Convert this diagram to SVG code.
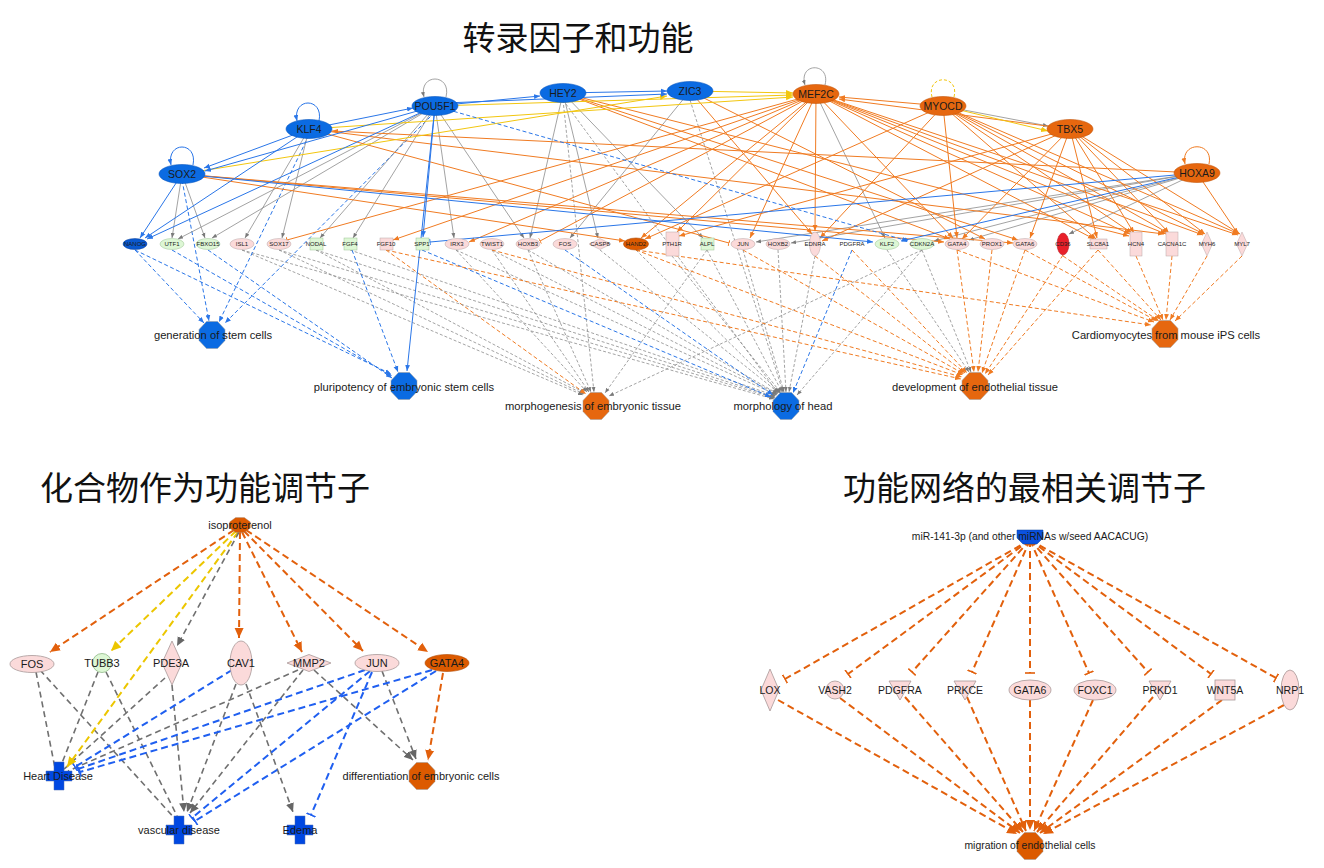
<svg xmlns="http://www.w3.org/2000/svg" width="1324" height="868" viewBox="0 0 1324 868">
<style>
.t{font-family:"Liberation Sans",Arial,sans-serif;fill:#1a1a1a;text-anchor:middle}
.tf{font-size:10.5px}
.g{font-size:6px}
.fn{font-size:11.2px}
.bl{font-size:11px}
.br{font-size:10.5px}
.zh{font-family:"Noto Sans CJK SC","Noto Sans CJK TC",sans-serif;font-size:33px;fill:#111}
.nb{fill:#0b6be2;stroke:#0a58c0;stroke-width:.6}
.nb2{fill:#0a58cf;stroke:#083f9a;stroke-width:.5}
.no{fill:#e6670f;stroke:#c4560a;stroke-width:.6}
.no2{fill:#dc5a00;stroke:#b04800;stroke-width:.6}
.pk{fill:#fbdada;stroke:#b8a6a6;stroke-width:.5}
.pk2{fill:#fbdada;stroke:#a89898;stroke-width:.8}
.gr{fill:#ddf7d5;stroke:#9cc294;stroke-width:.5}
.gr2{fill:#ddf7d5;stroke:#8fb888;stroke-width:.8}
.e line,.e path{fill:none}
.bs{stroke:#2a76e8;stroke-width:1;marker-end:url(#ab)}
.bt{stroke:#2a76e8;stroke-width:1;marker-end:url(#tbl)}
.bd{stroke:#2a76e8;stroke-width:1;stroke-dasharray:4 2.5;marker-end:url(#ab)}
.os{stroke:#f07b22;stroke-width:1;marker-end:url(#ao)}
.ot{stroke:#f07b22;stroke-width:1;marker-end:url(#tol)}
.od{stroke:#f07b22;stroke-width:1;stroke-dasharray:4 2.5;marker-end:url(#ao)}
.gs{stroke:#8c8c8c;stroke-width:.8;marker-end:url(#ag)}
.gd{stroke:#8c8c8c;stroke-width:.8;stroke-dasharray:3 2;marker-end:url(#ag)}
.ys{stroke:#f2c60f;stroke-width:1;marker-end:url(#ay)}
.yd{stroke:#f2c60f;stroke-width:1;stroke-dasharray:3 2}
.Lo{stroke:#e2600c;stroke-width:2;stroke-dasharray:7 4;marker-end:url(#Ao)}
.Lot{stroke:#e2600c;stroke-width:2;stroke-dasharray:7 4;marker-end:url(#To)}
.Ly{stroke:#ecc600;stroke-width:2;stroke-dasharray:7 4;marker-end:url(#Ay)}
.Lg{stroke:#707070;stroke-width:1.6;stroke-dasharray:6 4;marker-end:url(#Ag)}
.Lgn{stroke:#707070;stroke-width:1.6;stroke-dasharray:6 4}
.Lb{stroke:#1f5ff0;stroke-width:2;stroke-dasharray:7 4;marker-end:url(#Tb)}
</style>
<defs>
<marker id="ab" viewBox="0 0 10 10" refX="10" refY="5" markerWidth="6" markerHeight="6" markerUnits="userSpaceOnUse" orient="auto"><path d="M0,1 L10,5 L0,9 z" fill="#2a76e8"/></marker>
<marker id="ao" viewBox="0 0 10 10" refX="10" refY="5" markerWidth="6" markerHeight="6" markerUnits="userSpaceOnUse" orient="auto"><path d="M0,1 L10,5 L0,9 z" fill="#f07b22"/></marker>
<marker id="ag" viewBox="0 0 10 10" refX="10" refY="5" markerWidth="5" markerHeight="5" markerUnits="userSpaceOnUse" orient="auto"><path d="M0,1 L10,5 L0,9 z" fill="#7a7a7a"/></marker>
<marker id="ay" viewBox="0 0 10 10" refX="10" refY="5" markerWidth="7" markerHeight="7" markerUnits="userSpaceOnUse" orient="auto"><path d="M0,1 L10,5 L0,9 z" fill="#f2c60f"/></marker>
<marker id="tbl" viewBox="0 0 4 10" refX="3" refY="5" markerWidth="2.4" markerHeight="6" markerUnits="userSpaceOnUse" orient="auto"><path d="M3,0 V10" stroke="#2a76e8" stroke-width="1.6"/></marker>
<marker id="tol" viewBox="0 0 4 10" refX="3" refY="5" markerWidth="2.4" markerHeight="6" markerUnits="userSpaceOnUse" orient="auto"><path d="M3,0 V10" stroke="#f07b22" stroke-width="1.6"/></marker>
<marker id="Ao" viewBox="0 0 10 10" refX="10" refY="5" markerWidth="10" markerHeight="10" markerUnits="userSpaceOnUse" orient="auto"><path d="M0,0.5 L10,5 L0,9.5 z" fill="#e2600c"/></marker>
<marker id="Ay" viewBox="0 0 10 10" refX="10" refY="5" markerWidth="10" markerHeight="10" markerUnits="userSpaceOnUse" orient="auto"><path d="M0,0.5 L10,5 L0,9.5 z" fill="#ecc600"/></marker>
<marker id="Ag" viewBox="0 0 10 10" refX="10" refY="5" markerWidth="9" markerHeight="9" markerUnits="userSpaceOnUse" orient="auto"><path d="M0,0.5 L10,5 L0,9.5 z" fill="#666"/></marker>
<marker id="Tb" viewBox="0 0 4 10" refX="3" refY="5" markerWidth="4" markerHeight="10" markerUnits="userSpaceOnUse" orient="auto"><path d="M3,0 V10" stroke="#1f5ff0" stroke-width="1.6"/></marker>
<marker id="To" viewBox="0 0 4 10" refX="3" refY="5" markerWidth="4" markerHeight="10" markerUnits="userSpaceOnUse" orient="auto"><path d="M3,0 V10" stroke="#e2600c" stroke-width="1.6"/></marker>
<polygon id="oct" points="5.5,-13.5 13,-5.5 13,5.5 5.5,13.5 -5.5,13.5 -13,5.5 -13,-5.5 -5.5,-13.5" stroke="#999" stroke-width=".5"/>
<path id="cross" d="M-5,-14 H5 V-5 H13 V5 H5 V14 H-5 V5 H-13 V-5 H-5 Z" stroke="#4a6ab0" stroke-width=".5"/>
</defs>
<rect width="1324" height="868" fill="#fff"/>

<text class="zh" x="578" y="50" text-anchor="middle">转录因子和功能</text>
<text class="zh" x="40" y="500">化合物作为功能调节子</text>
<text class="zh" x="843" y="500">功能网络的最相关调节子</text>

<g id="top-connectors" class="e">
<line class="gd" x1="242" y1="250" x2="583" y2="395"/>
<line class="gd" x1="279" y1="250" x2="584" y2="394"/>
<line class="gd" x1="316" y1="250" x2="585" y2="393"/>
<line class="gd" x1="456" y1="250" x2="587" y2="392"/>
<line class="gd" x1="492" y1="250" x2="589" y2="392"/>
<line class="gd" x1="528" y1="250" x2="591" y2="392"/>
<line class="gd" x1="563" y1="100" x2="594" y2="392"/>
<line class="gd" x1="707" y1="250" x2="605" y2="393"/>
<line class="gd" x1="922" y1="250" x2="609" y2="396"/>
<line class="od" x1="386" y1="250" x2="586" y2="394"/>
<line class="gd" x1="242" y1="250" x2="774" y2="399"/>
<line class="gd" x1="279" y1="250" x2="775" y2="398"/>
<line class="gd" x1="316" y1="250" x2="775" y2="397"/>
<line class="gd" x1="350" y1="250" x2="776" y2="396"/>
<line class="gd" x1="456" y1="250" x2="777" y2="395"/>
<line class="gd" x1="492" y1="250" x2="777" y2="394"/>
<line class="gd" x1="528" y1="250" x2="778" y2="394"/>
<line class="gd" x1="600" y1="250" x2="779" y2="393"/>
<line class="gd" x1="636" y1="250" x2="780" y2="393"/>
<line class="gd" x1="672" y1="256" x2="781" y2="393"/>
<line class="gd" x1="707" y1="250" x2="782" y2="392"/>
<line class="gd" x1="743" y1="250" x2="784" y2="392"/>
<line class="gd" x1="778" y1="250" x2="786" y2="392"/>
<line class="gd" x1="815" y1="256" x2="789" y2="392"/>
<line class="gd" x1="690" y1="100" x2="783" y2="392"/>
<line class="gd" x1="563" y1="100" x2="778" y2="393"/>
<line class="gd" x1="922" y1="250" x2="797" y2="395"/>
<line class="bd" x1="422" y1="250" x2="771" y2="397"/>
<line class="bd" x1="565" y1="250" x2="773" y2="395"/>
<line class="bd" x1="852" y1="250" x2="793" y2="393"/>
<line class="bd" x1="135" y1="250" x2="204" y2="323"/>
<line class="bd" x1="182" y1="180" x2="209" y2="321"/>
<line class="bd" x1="309" y1="135" x2="219" y2="322"/>
<line class="bd" x1="435" y1="112" x2="225" y2="323"/>
<line class="bd" x1="135" y1="250" x2="391" y2="374"/>
<line class="bd" x1="172" y1="250" x2="392" y2="376"/>
<line class="bd" x1="208" y1="250" x2="392" y2="378"/>
<line class="bd" x1="352" y1="250" x2="398" y2="372"/>
<line class="od" x1="386" y1="250" x2="961" y2="379"/>
<line class="od" x1="492" y1="250" x2="962" y2="377"/>
<line class="od" x1="636" y1="250" x2="963" y2="375"/>
<line class="od" x1="743" y1="250" x2="964" y2="374"/>
<line class="od" x1="815" y1="256" x2="965" y2="373"/>
<line class="od" x1="852" y1="250" x2="967" y2="373"/>
<line class="gd" x1="887" y1="250" x2="969" y2="372"/>
<line class="gd" x1="922" y1="250" x2="971" y2="372"/>
<line class="od" x1="957" y1="250" x2="974" y2="372"/>
<line class="od" x1="992" y1="250" x2="978" y2="372"/>
<line class="od" x1="1025" y1="250" x2="982" y2="373"/>
<line class="od" x1="1063" y1="255" x2="985" y2="374"/>
<line class="od" x1="1098" y1="250" x2="988" y2="375"/>
<line class="od" x1="636" y1="250" x2="1151" y2="325"/>
<line class="od" x1="957" y1="250" x2="1154" y2="322"/>
<line class="od" x1="1025" y1="250" x2="1157" y2="321"/>
<line class="od" x1="1063" y1="256" x2="1159" y2="321"/>
<line class="od" x1="1098" y1="250" x2="1161" y2="320"/>
<line class="od" x1="1136" y1="256" x2="1163" y2="320"/>
<line class="od" x1="1172" y1="256" x2="1166" y2="320"/>
<line class="od" x1="1207" y1="256" x2="1170" y2="320"/>
<line class="od" x1="1242" y1="256" x2="1175" y2="321"/>
<line class="gs" x1="182" y1="174" x2="172" y2="238"/>
<line class="gs" x1="182" y1="174" x2="205" y2="238"/>
<line class="gs" x1="435" y1="106" x2="178" y2="239"/>
<line class="gs" x1="435" y1="106" x2="212" y2="238"/>
<line class="gs" x1="435" y1="106" x2="320" y2="238"/>
<line class="gs" x1="435" y1="106" x2="353" y2="238"/>
<line class="gs" x1="435" y1="106" x2="524" y2="238"/>
<line class="gs" x1="435" y1="106" x2="454" y2="238"/>
<line class="gs" x1="563" y1="93" x2="530" y2="238"/>
<line class="gs" x1="563" y1="93" x2="598" y2="238"/>
<line class="gs" x1="563" y1="93" x2="703" y2="238"/>
<line class="gs" x1="309" y1="129" x2="245" y2="238"/>
<line class="gs" x1="309" y1="129" x2="282" y2="238"/>
<line class="gs" x1="690" y1="91" x2="570" y2="238"/>
<line class="gs" x1="816" y1="94" x2="885" y2="238"/>
<line class="gs" x1="1197" y1="173" x2="934" y2="241"/>
<line class="gs" x1="1197" y1="173" x2="791" y2="243"/>
<line class="gs" x1="1197" y1="173" x2="756" y2="242"/>
<line class="gs" x1="1197" y1="173" x2="1069" y2="234"/>
<line class="gs" x1="1197" y1="173" x2="969" y2="240"/>
<line class="gs" x1="943" y1="106" x2="1048" y2="126"/>
<line class="os" x1="816" y1="94" x2="641" y2="238"/>
<line class="os" x1="816" y1="94" x2="677" y2="232"/>
<line class="os" x1="816" y1="94" x2="750" y2="238"/>
<line class="os" x1="816" y1="94" x2="815" y2="231"/>
<line class="os" x1="816" y1="94" x2="953" y2="238"/>
<line class="os" x1="816" y1="94" x2="1094" y2="239"/>
<line class="os" x1="816" y1="94" x2="1130" y2="234"/>
<line class="os" x1="816" y1="94" x2="1166" y2="234"/>
<line class="os" x1="816" y1="94" x2="1203" y2="235"/>
<line class="os" x1="816" y1="94" x2="1238" y2="235"/>
<line class="os" x1="816" y1="94" x2="393" y2="240"/>
<line class="os" x1="816" y1="94" x2="469" y2="242"/>
<line class="ot" x1="816" y1="94" x2="287" y2="240"/>
<line class="ot" x1="816" y1="94" x2="540" y2="241"/>
<line class="os" x1="943" y1="106" x2="839" y2="97"/>
<line class="os" x1="943" y1="106" x2="645" y2="239"/>
<line class="os" x1="943" y1="106" x2="957" y2="238"/>
<line class="os" x1="943" y1="106" x2="1096" y2="239"/>
<line class="os" x1="943" y1="106" x2="1132" y2="233"/>
<line class="os" x1="943" y1="106" x2="1168" y2="233"/>
<line class="os" x1="943" y1="106" x2="1204" y2="234"/>
<line class="os" x1="943" y1="106" x2="1239" y2="234"/>
<line class="os" x1="943" y1="106" x2="820" y2="238"/>
<line class="os" x1="1070" y1="129" x2="839" y2="99"/>
<line class="os" x1="1070" y1="129" x2="962" y2="239"/>
<line class="os" x1="1070" y1="129" x2="1030" y2="238"/>
<line class="os" x1="1070" y1="129" x2="1134" y2="233"/>
<line class="os" x1="1070" y1="129" x2="1169" y2="233"/>
<line class="os" x1="1070" y1="129" x2="1205" y2="234"/>
<line class="os" x1="1070" y1="129" x2="1240" y2="234"/>
<line class="os" x1="1070" y1="129" x2="679" y2="236"/>
<line class="os" x1="1070" y1="129" x2="1097" y2="238"/>
<line class="os" x1="1070" y1="129" x2="822" y2="241"/>
<line class="os" x1="563" y1="93" x2="950" y2="239"/>
<line class="os" x1="563" y1="93" x2="1018" y2="240"/>
<line class="os" x1="563" y1="93" x2="1129" y2="236"/>
<line class="os" x1="690" y1="91" x2="812" y2="234"/>
<line class="os" x1="690" y1="91" x2="985" y2="239"/>
<line class="os" x1="182" y1="174" x2="625" y2="241"/>
<line class="os" x1="182" y1="174" x2="944" y2="242"/>
<line class="os" x1="182" y1="174" x2="1013" y2="243"/>
<line class="os" x1="309" y1="129" x2="1164" y2="234"/>
<line class="os" x1="1197" y1="173" x2="332" y2="131"/>
<line class="os" x1="1197" y1="173" x2="1238" y2="234"/>
<line class="ot" x1="309" y1="129" x2="729" y2="243"/>
<line class="ys" x1="182" y1="174" x2="667" y2="96"/>
<line class="ys" x1="309" y1="129" x2="793" y2="97"/>
<line class="ys" x1="435" y1="106" x2="793" y2="95"/>
<line class="ys" x1="690" y1="91" x2="793" y2="93"/>
<line class="ys" x1="943" y1="106" x2="1048" y2="131"/>
<line class="bs" x1="309" y1="129" x2="413" y2="108"/>
<line class="bs" x1="309" y1="129" x2="204" y2="168"/>
<line class="bs" x1="435" y1="106" x2="205" y2="171"/>
<line class="bs" x1="182" y1="174" x2="140" y2="238"/>
<line class="bs" x1="309" y1="129" x2="145" y2="238"/>
<line class="bs" x1="435" y1="106" x2="147" y2="239"/>
<line class="bs" x1="435" y1="106" x2="540" y2="96"/>
<line class="bs" x1="563" y1="93" x2="667" y2="91"/>
<line class="bs" x1="445" y1="103" x2="667" y2="94"/>
<line class="bs" x1="182" y1="174" x2="873" y2="242"/>
<line class="bs" x1="435" y1="106" x2="407" y2="371"/>
<line class="bs" x1="435" y1="106" x2="423" y2="237"/>
<line class="bs" x1="1197" y1="173" x2="901" y2="241"/>
<line class="bt" x1="1197" y1="173" x2="430" y2="242"/>
<line class="bd" x1="435" y1="106" x2="908" y2="241"/>
<path class="bs" d="M193,165 C198,141 166,141 171,165"/>
<path class="bs" d="M319,121 C324,97 292,97 297,121"/>
<path class="gs" d="M446,97 C452,73 418,73 424,97"/>
<path class="gs" d="M825,85 C831,62 798,62 805,85"/>
<path class="yd" d="M954,97 C960,74 926,74 932,97"/>
<path class="os" d="M1209,164 C1214,141 1180,141 1185,164"/>
</g>

<g id="n-SOX2"><ellipse class="nb" cx="182" cy="174" rx="23" ry="9.5"/><text class="t tf" x="182" y="178">SOX2</text></g>
<g id="n-KLF4"><ellipse class="nb" cx="309" cy="129" rx="23" ry="9.5"/><text class="t tf" x="309" y="133">KLF4</text></g>
<g id="n-POU5F1"><ellipse class="nb" cx="435" cy="106" rx="23" ry="9.5"/><text class="t tf" x="435" y="110">POU5F1</text></g>
<g id="n-HEY2"><ellipse class="nb" cx="563" cy="93" rx="23" ry="9.5"/><text class="t tf" x="563" y="97">HEY2</text></g>
<g id="n-ZIC3"><ellipse class="nb" cx="690" cy="91" rx="23" ry="9.5"/><text class="t tf" x="690" y="95">ZIC3</text></g>
<g id="n-MEF2C"><ellipse class="no" cx="816" cy="94" rx="23" ry="9.5"/><text class="t tf" x="816" y="98">MEF2C</text></g>
<g id="n-MYOCD"><ellipse class="no" cx="943" cy="106" rx="23" ry="9.5"/><text class="t tf" x="943" y="110">MYOCD</text></g>
<g id="n-TBX5"><ellipse class="no" cx="1070" cy="129" rx="23" ry="9.5"/><text class="t tf" x="1070" y="133">TBX5</text></g>
<g id="n-HOXA9"><ellipse class="no" cx="1197" cy="173" rx="23" ry="9.5"/><text class="t tf" x="1197" y="177">HOXA9</text></g>

<g id="n-NANOG"><ellipse class="nb2" cx="135" cy="244" rx="12" ry="5.5"/><text class="t g" x="135" y="246">NANOG</text></g>
<g id="n-UTF1"><ellipse class="gr" cx="172" cy="244" rx="12" ry="5.5"/><text class="t g" x="172" y="246">UTF1</text></g>
<g id="n-FBXO15"><ellipse class="gr" cx="208" cy="244" rx="12" ry="5.5"/><text class="t g" x="208" y="246">FBXO15</text></g>
<g id="n-ISL1"><ellipse class="pk" cx="242" cy="244" rx="12" ry="5.5"/><text class="t g" x="242" y="246">ISL1</text></g>
<g id="n-SOX17"><ellipse class="pk" cx="279" cy="244" rx="12" ry="5.5"/><text class="t g" x="279" y="246">SOX17</text></g>
<g id="n-NODAL"><rect class="gr" x="310" y="238" width="13" height="12"/><text class="t g" x="316" y="246">NODAL</text></g>
<g id="n-FGF4"><rect class="gr" x="344" y="238" width="13" height="12"/><text class="t g" x="350" y="246">FGF4</text></g>
<g id="n-FGF10"><rect class="pk" x="380" y="238" width="13" height="12"/><text class="t g" x="386" y="246">FGF10</text></g>
<g id="n-SPP1"><rect class="gr" x="416" y="238" width="13" height="12"/><text class="t g" x="422" y="246">SPP1</text></g>
<g id="n-IRX3"><ellipse class="pk" cx="457" cy="244" rx="12" ry="5.5"/><text class="t g" x="457" y="246">IRX3</text></g>
<g id="n-TWIST1"><ellipse class="pk" cx="492" cy="244" rx="12" ry="5.5"/><text class="t g" x="492" y="246">TWIST1</text></g>
<g id="n-HOXB3"><ellipse class="pk" cx="528" cy="244" rx="12" ry="5.5"/><text class="t g" x="528" y="246">HOXB3</text></g>
<g id="n-FOS"><ellipse class="pk" cx="565" cy="244" rx="12" ry="5.5"/><text class="t g" x="565" y="246">FOS</text></g>
<g id="n-CASP8"><polygon class="pk" points="589,244 600,238.5 611,244 600,249.5"/><text class="t g" x="600" y="246">CASP8</text></g>
<g id="n-HAND2"><ellipse class="no2" cx="636" cy="244" rx="12.5" ry="6"/><text class="t g" x="636" y="246">HAND2</text></g>
<g id="n-PTH1R"><rect class="pk" x="666" y="232" width="13" height="24"/><text class="t g" x="672" y="246">PTH1R</text></g>
<g id="n-ALPL"><rect class="gr" x="701" y="238" width="13" height="12"/><text class="t g" x="707" y="246">ALPL</text></g>
<g id="n-JUN"><ellipse class="pk" cx="743" cy="244" rx="12" ry="5.5"/><text class="t g" x="743" y="246">JUN</text></g>
<g id="n-HOXB2"><ellipse class="pk" cx="778" cy="244" rx="12" ry="5.5"/><text class="t g" x="778" y="246">HOXB2</text></g>
<g id="n-EDNRA"><ellipse class="pk" cx="815" cy="244" rx="5.5" ry="12"/><text class="t g" x="815" y="246">EDNRA</text></g>
<g id="n-PDGFRA"><text class="t g" x="852" y="246">PDGFRA</text></g>
<g id="n-KLF2"><ellipse class="gr" cx="887" cy="244" rx="12" ry="5.5"/><text class="t g" x="887" y="246">KLF2</text></g>
<g id="n-CDKN2A"><ellipse class="gr" cx="922" cy="244" rx="12" ry="5.5"/><text class="t g" x="922" y="246">CDKN2A</text></g>
<g id="n-GATA4-top"><ellipse class="pk" cx="957" cy="244" rx="12" ry="5.5"/><text class="t g" x="957" y="246">GATA4</text></g>
<g id="n-PROX1"><ellipse class="pk" cx="992" cy="244" rx="12" ry="5.5"/><text class="t g" x="992" y="246">PROX1</text></g>
<g id="n-GATA6-top"><ellipse class="pk" cx="1025" cy="244" rx="12" ry="5.5"/><text class="t g" x="1025" y="246">GATA6</text></g>
<g id="n-CD36"><ellipse cx="1063" cy="244" rx="6" ry="11" fill="#e8202a" stroke="#b01018" stroke-width=".5"/><text class="t g" x="1063" y="246">CD36</text></g>
<g id="n-SLC8A1"><rect class="pk" x="1090" y="239" width="17" height="10"/><text class="t g" x="1098" y="246">SLC8A1</text></g>
<g id="n-HCN4"><rect class="pk" x="1130" y="232" width="12" height="24"/><text class="t g" x="1136" y="246">HCN4</text></g>
<g id="n-CACNA1C"><rect class="pk" x="1166" y="232" width="12" height="24"/><text class="t g" x="1172" y="246">CACNA1C</text></g>
<g id="n-MYH6"><polygon class="pk" points="1201.5,244 1207,232 1212.5,244 1207,256"/><text class="t g" x="1207" y="246">MYH6</text></g>
<g id="n-MYL7"><polygon class="pk" points="1236.5,244 1242,232 1247.5,244 1242,256"/><text class="t g" x="1242" y="246">MYL7</text></g>

<g id="f-generation"><use href="#oct" x="212" y="335" fill="#0b6be2"/><text class="t fn" x="213" y="339">generation of stem cells</text></g>
<g id="f-pluripotency"><use href="#oct" x="404" y="386" fill="#0b6be2"/><text class="t fn" x="404" y="391">pluripotency of embryonic stem cells</text></g>
<g id="f-morphogenesis"><use href="#oct" x="596" y="406" fill="#e6670f"/><text class="t fn" x="593" y="410">morphogenesis of embryonic tissue</text></g>
<g id="f-morphology"><use href="#oct" x="786" y="406" fill="#0b6be2"/><text class="t fn" x="783" y="410">morphology of head</text></g>
<g id="f-development"><use href="#oct" x="975" y="386" fill="#e6670f"/><text class="t fn" x="975" y="391">development of endothelial tissue</text></g>
<g id="f-cardiomyocytes"><use href="#oct" x="1165" y="334" fill="#e6670f"/><text class="t fn" x="1166" y="339">Cardiomyocytes from mouse iPS cells</text></g>

<g id="bl-connectors" class="e">
<line class="Lgn" x1="36" y1="672" x2="55" y2="768"/>
<line class="Lgn" x1="40" y1="670" x2="178" y2="822"/>
<line class="Lgn" x1="98" y1="672" x2="60" y2="768"/>
<line class="Lgn" x1="106" y1="672" x2="180" y2="822"/>
<line class="Lgn" x1="165" y1="678" x2="63" y2="770"/>
<line class="Lg" x1="172" y1="685" x2="184" y2="812"/>
<line class="Lg" x1="236" y1="684" x2="187" y2="812"/>
<line class="Lg" x1="246" y1="684" x2="293" y2="812"/>
<line class="Lgn" x1="298" y1="670" x2="68" y2="771"/>
<line class="Lg" x1="303" y1="670" x2="190" y2="813"/>
<line class="Lg" x1="314" y1="670" x2="413" y2="760"/>
<line class="Lg" x1="382" y1="671" x2="416" y2="759"/>
<line class="Lb" x1="232" y1="670" x2="75" y2="767"/>
<line class="Lb" x1="365" y1="670" x2="78" y2="769"/>
<line class="Lb" x1="370" y1="671" x2="192" y2="818"/>
<line class="Lb" x1="372" y1="672" x2="311" y2="815"/>
<line class="Lb" x1="432" y1="670" x2="80" y2="772"/>
<line class="Lb" x1="436" y1="671" x2="195" y2="821"/>
<line class="Lo" x1="443" y1="673" x2="428" y2="760"/>
<line class="Lo" x1="234" y1="530" x2="50" y2="652"/>
<line class="Ly" x1="236" y1="531" x2="111" y2="651"/>
<line class="Ly" x1="238" y1="532" x2="67" y2="767"/>
<line class="Lg" x1="239" y1="532" x2="177" y2="646"/>
<line class="Lo" x1="240" y1="532" x2="239" y2="638"/>
<line class="Lo" x1="242" y1="532" x2="302" y2="652"/>
<line class="Lo" x1="244" y1="531" x2="363" y2="651"/>
<line class="Lo" x1="246" y1="530" x2="428" y2="652"/>
</g>

<g id="c-isoproterenol"><use href="#oct" x="0" y="0" fill="#dc5a00" transform="translate(240,525) scale(0.8,0.55)"/><text class="t bl" x="240" y="529">isoproterenol</text></g>
<g id="c-FOS"><ellipse class="pk2" cx="32" cy="664" rx="22" ry="8.5"/><text class="t bl" x="32" y="668">FOS</text></g>
<g id="c-TUBB3"><circle class="gr2" cx="102" cy="663" r="9.5"/><text class="t bl" x="102" y="667">TUBB3</text></g>
<g id="c-PDE3A"><polygon class="pk2" points="162,663 172,641 182,663 172,685"/><text class="t bl" x="171" y="667">PDE3A</text></g>
<g id="c-CAV1"><ellipse class="pk2" cx="241" cy="663" rx="11" ry="22"/><text class="t bl" x="241" y="667">CAV1</text></g>
<g id="c-MMP2"><polygon class="pk2" points="287,663 309,654.5 331,663 309,671.5"/><text class="t bl" x="309" y="667">MMP2</text></g>
<g id="c-JUN"><ellipse class="pk2" cx="377" cy="663" rx="22" ry="8.5"/><text class="t bl" x="377" y="667">JUN</text></g>
<g id="c-GATA4"><ellipse class="no2" cx="447" cy="663" rx="22" ry="8.5"/><text class="t bl" x="447" y="667">GATA4</text></g>
<g id="d-heart"><use href="#cross" x="59" y="776" fill="#0048e2"/><text class="t bl" x="58" y="780">Heart Disease</text></g>
<g id="d-vascular"><use href="#cross" x="179" y="830" fill="#0048e2"/><text class="t bl" x="179" y="834">vascular disease</text></g>
<g id="d-edema"><use href="#cross" x="300" y="830" fill="#0048e2"/><text class="t bl" x="300" y="834">Edema</text></g>
<g id="f-differentiation"><use href="#oct" x="422" y="776" fill="#dc5a00"/><text class="t bl" x="421" y="780">differentiation of embryonic cells</text></g>

<g id="br-connectors" class="e">
<line class="Lot" x1="1030" y1="540" x2="785" y2="679"/>
<line class="Lot" x1="1030" y1="540" x2="848" y2="674"/>
<line class="Lot" x1="1030" y1="540" x2="912" y2="672"/>
<line class="Lot" x1="1030" y1="540" x2="972" y2="672"/>
<line class="Lot" x1="1030" y1="540" x2="1030" y2="673"/>
<line class="Lot" x1="1030" y1="540" x2="1089" y2="673"/>
<line class="Lot" x1="1030" y1="540" x2="1148" y2="672"/>
<line class="Lot" x1="1030" y1="540" x2="1211" y2="674"/>
<line class="Lot" x1="1030" y1="540" x2="1276" y2="678"/>
<line class="Lo" x1="778" y1="700" x2="1017" y2="834"/>
<line class="Lo" x1="840" y1="698" x2="1020" y2="833"/>
<line class="Lo" x1="905" y1="697" x2="1023" y2="832"/>
<line class="Lo" x1="967" y1="697" x2="1026" y2="831"/>
<line class="Lo" x1="1030" y1="700" x2="1030" y2="830"/>
<line class="Lo" x1="1093" y1="700" x2="1034" y2="831"/>
<line class="Lo" x1="1153" y1="697" x2="1037" y2="832"/>
<line class="Lo" x1="1222" y1="700" x2="1040" y2="833"/>
<line class="Lo" x1="1284" y1="705" x2="1043" y2="834"/>
</g>

<g id="r-miR141"><polygon points="1017,530 1043,530 1043,538 1037,544 1023,544 1017,538" fill="#0b52e0" stroke="#06409a" stroke-width=".5"/><text class="t" style="font-size:10.3px" x="1030" y="540">miR-141-3p (and other miRNAs w/seed AACACUG)</text></g>
<g id="r-LOX"><polygon class="pk2" points="761,690 770,669 779,690 770,711"/><text class="t br" x="770" y="694">LOX</text></g>
<g id="r-VASH2"><circle class="pk2" cx="835" cy="690" r="9"/><text class="t br" x="835" y="694">VASH2</text></g>
<g id="r-PDGFRA"><polygon class="pk2" points="889,681 911,681 900,700"/><text class="t br" x="900" y="694">PDGFRA</text></g>
<g id="r-PRKCE"><polygon class="pk2" points="954,681 976,681 965,700"/><text class="t br" x="965" y="694">PRKCE</text></g>
<g id="r-GATA6"><ellipse class="pk2" cx="1030" cy="690" rx="21" ry="10"/><text class="t br" x="1030" y="694">GATA6</text></g>
<g id="r-FOXC1"><ellipse class="pk2" cx="1095" cy="690" rx="21" ry="10"/><text class="t br" x="1095" y="694">FOXC1</text></g>
<g id="r-PRKD1"><polygon class="pk2" points="1149,681 1171,681 1160,700"/><text class="t br" x="1160" y="694">PRKD1</text></g>
<g id="r-WNT5A"><rect class="pk2" x="1215" y="680" width="20" height="20"/><text class="t br" x="1225" y="694">WNT5A</text></g>
<g id="r-NRP1"><ellipse class="pk2" cx="1290" cy="690" rx="9" ry="20"/><text class="t br" x="1290" y="694">NRP1</text></g>
<g id="f-migration"><use href="#oct" x="1030" y="846" fill="#dc5a00"/><text class="t" style="font-size:10.4px" x="1030" y="849">migration of endothelial cells</text></g>
</svg>
